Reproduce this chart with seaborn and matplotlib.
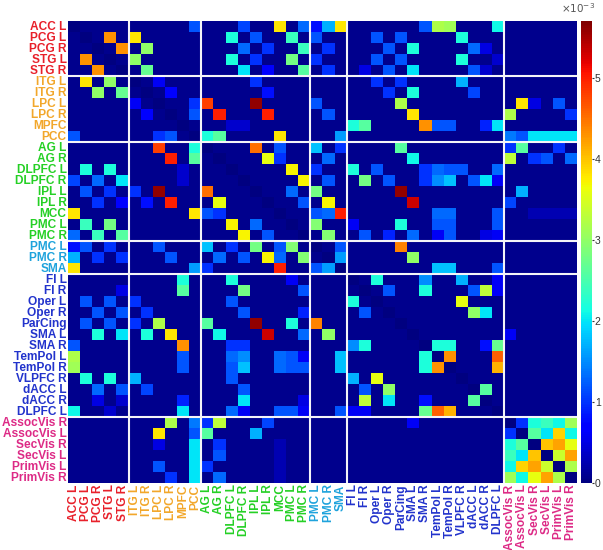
import numpy as np
import pandas as pd
import matplotlib
matplotlib.use('Agg')
import matplotlib.pyplot as plt
import seaborn as sns

# region labels, in matrix order
labels = ['ACC L', 'PCG L', 'PCG R', 'STG L', 'STG R',
          'ITG L', 'ITG R', 'LPC L', 'LPC R', 'MPFC', 'PCC',
          'AG L', 'AG R', 'DLPFC L', 'DLPFC R', 'IPL L', 'IPL R', 'MCC', 'PMC L', 'PMC R',
          'PMC L', 'PMC R', 'SMA',
          'FI L', 'FI R', 'Oper L', 'Oper R', 'ParCing', 'SMA L', 'SMA R', 'TemPol L',
          'TemPol R', 'VLPFC R', 'dACC L', 'dACC R', 'DLPFC L',
          'AssocVis R', 'AssocVis L', 'SecVis R', 'SecVis L', 'PrimVis L', 'PrimVis R']
group_sizes = [5, 6, 9, 3, 13, 6]
group_colors = ['#e8202a', '#f2a72b', '#25d025', '#1fa3dc', '#2233cc', '#dd2a86']

# connectivity (x1e-3), upper triangle: (row, col, value)
links = [
    (0, 10, 1.2), (0, 14, 1.1), (0, 17, 3.8), (0, 19, 1.3), (0, 20, 0.8), (0, 21, 1.7),
    (0, 22, 3.8), (0, 29, 1.2), (0, 30, 3.2), (0, 31, 3.1), (0, 35, 2.1),
    (1, 3, 4.3), (1, 5, 3.8), (1, 13, 2.2), (1, 15, 1.2), (1, 18, 2.4), (1, 20, 1.2),
    (1, 25, 1.2), (1, 27, 1.2), (1, 32, 2.2),
    (2, 4, 4.3), (2, 6, 3.0), (2, 14, 1.3), (2, 16, 1.0), (2, 19, 2.4), (2, 21, 1.0),
    (2, 26, 1.2), (2, 28, 2.2), (2, 33, 1.3), (2, 34, 0.5),
    (3, 5, 3.0), (3, 13, 2.2), (3, 15, 1.0), (3, 18, 2.8), (3, 20, 1.0), (3, 25, 1.2),
    (3, 27, 1.2), (3, 32, 2.2), (3, 35, 0.4),
    (4, 6, 2.7), (4, 14, 2.0), (4, 16, 0.7), (4, 19, 2.6), (4, 21, 1.0), (4, 24, 0.5),
    (4, 26, 1.2), (4, 28, 2.0), (4, 33, 1.2), (4, 34, 0.4),
    (5, 7, 0.6), (5, 15, 1.0), (5, 25, 1.0), (5, 27, 1.0), (5, 32, 1.7),
    (6, 8, 0.7), (6, 16, 0.8), (6, 26, 1.0), (6, 28, 2.2), (6, 33, 1.1),
    (7, 10, 1.0), (7, 11, 4.8), (7, 15, 5.6), (7, 20, 1.2), (7, 27, 3.2), (7, 37, 3.8),
    (7, 38, 0.5), (7, 40, 1.2),
    (8, 10, 1.2), (8, 12, 5.0), (8, 16, 5.0), (8, 21, 1.2), (8, 28, 3.8), (8, 36, 3.2),
    (8, 41, 1.0),
    (9, 13, 0.4), (9, 14, 0.4), (9, 23, 2.2), (9, 24, 2.6), (9, 29, 4.3), (9, 30, 1.2),
    (9, 31, 1.2), (9, 34, 0.9), (9, 35, 2.0),
    (10, 11, 2.2), (10, 12, 2.6), (10, 17, 3.8), (10, 22, 1.6), (10, 36, 1.4), (10, 37, 1.2),
    (10, 38, 2.0), (10, 39, 2.0), (10, 40, 2.0), (10, 41, 2.0),
    (11, 15, 4.5), (11, 17, 1.2), (11, 20, 1.8), (11, 22, 1.0), (11, 27, 2.6), (11, 36, 1.0),
    (11, 37, 2.6), (11, 40, 1.0),
    (12, 16, 3.6), (12, 17, 1.0), (12, 21, 1.3), (12, 28, 2.1), (12, 36, 3.3), (12, 38, 1.0),
    (12, 39, 1.2), (12, 41, 1.3),
    (13, 18, 3.7), (13, 20, 1.0), (13, 23, 2.2), (13, 25, 1.2), (13, 29, 1.0), (13, 30, 1.3),
    (13, 31, 1.2), (13, 32, 1.2), (13, 35, 1.3),
    (14, 19, 3.7), (14, 21, 1.2), (14, 24, 2.8), (14, 26, 1.2), (14, 29, 1.0), (14, 30, 1.5),
    (14, 31, 1.8), (14, 33, 1.2), (14, 34, 2.0), (14, 35, 0.6),
    (15, 18, 1.3), (15, 20, 2.8), (15, 27, 5.6), (15, 37, 1.7),
    (16, 19, 1.2), (16, 21, 3.7), (16, 28, 5.3), (16, 36, 1.1),
    (17, 20, 1.2), (17, 21, 1.3), (17, 22, 5.0), (17, 30, 1.3), (17, 31, 1.3), (17, 35, 1.2),
    (17, 38, 0.25), (17, 39, 0.25), (17, 40, 0.25), (17, 41, 0.25),
    (18, 20, 2.9), (18, 23, 0.6), (18, 27, 2.2), (18, 30, 1.2), (18, 31, 1.2), (18, 35, 1.2),
    (19, 21, 2.9), (19, 24, 1.2), (19, 26, 0.9), (19, 28, 1.3), (19, 30, 0.6), (19, 31, 1.2),
    (19, 34, 0.5), (19, 35, 0.6),
    (20, 22, 1.2), (20, 27, 4.4),
    (21, 22, 1.6), (21, 28, 3.0),
    (22, 30, 1.8), (22, 31, 1.8), (22, 35, 1.2),
    (23, 25, 2.2), (23, 29, 1.5), (23, 32, 1.7), (23, 35, 0.6),
    (24, 26, 1.2), (24, 29, 2.2), (24, 33, 1.2), (24, 34, 3.3), (24, 35, 0.6),
    (25, 32, 3.6),
    (26, 33, 3.0), (26, 34, 2.0),
    (28, 36, 0.6),
    (29, 30, 2.2), (29, 31, 2.2), (29, 34, 0.8), (29, 35, 2.7),
    (30, 31, 4.3), (30, 35, 4.6), (31, 35, 4.1),
    (33, 34, 2.6),
    (36, 37, 1.0), (36, 38, 2.2), (36, 39, 2.4), (36, 40, 2.1), (36, 41, 3.1),
    (37, 38, 2.6), (37, 39, 2.0), (37, 40, 3.9), (37, 41, 2.1),
    (38, 39, 4.0), (38, 40, 4.2), (38, 41, 3.6),
    (39, 40, 3.4), (39, 41, 4.2),
    (40, 41, 3.2),
]
baseline = 0.08
vmax = 5.7

n = len(labels)
mat = np.full((n, n), baseline)
for i, j, v in links:
    mat[i, j] = v
    mat[j, i] = v
np.fill_diagonal(mat, 0.0)

label_colors = []
for size, col in zip(group_sizes, group_colors):
    label_colors += [col] * size
bounds = np.cumsum(group_sizes)[:-1]

sns.set_style('white')
plt.rcParams['font.family'] = ['Liberation Sans', 'DejaVu Sans']

fig = plt.figure(figsize=(6.03, 5.5), dpi=100)
ax = fig.add_axes([0.1128, 0.1218, 0.844, 0.84])
cax = fig.add_axes([0.9635, 0.1218, 0.0175, 0.84])

df = pd.DataFrame(mat)
sns.heatmap(df, cmap='jet', vmin=0, vmax=vmax, ax=ax, cbar_ax=cax,
            xticklabels=labels, yticklabels=labels)

for b in bounds:
    ax.axhline(b, color='#f4f4f8', lw=1.5)
    ax.axvline(b, color='#f4f4f8', lw=1.5)

ax.tick_params(length=0, pad=1)
ax.set_xticklabels(labels, rotation=90, fontsize=8.6, fontweight='bold')
ax.set_yticklabels(labels, rotation=0, fontsize=8.6, fontweight='bold')
for t, c in zip(ax.get_xticklabels(), label_colors):
    t.set_color(c)
for t, c in zip(ax.get_yticklabels(), label_colors):
    t.set_color(c)

cax.set_yticks([0, 1, 2, 3, 4, 5])
cax.set_yticklabels(['0', '1', '2', '3', '4', '5'])
cax.tick_params(labelsize=7.5, length=1.5, pad=0.8, colors='#333333')
fig.text(0.958, 0.972, r'$\times10^{-3}$', ha='center', va='bottom',
         fontsize=7.5, color='#555555')

fig.savefig('out.png', dpi=100)
